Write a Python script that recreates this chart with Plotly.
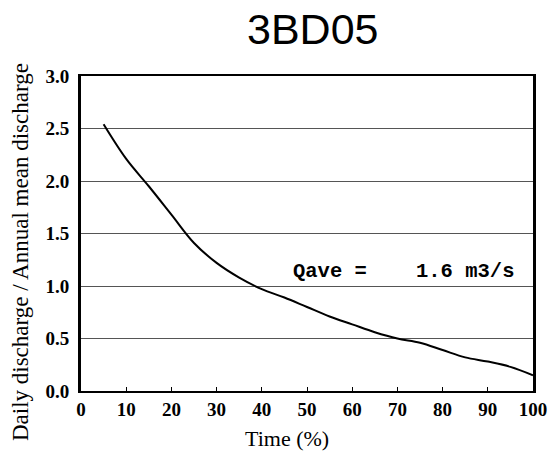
"""Flow duration curve for station 3BD05."""

import plotly.graph_objects as go

# Flow duration curve
time_pct = [5, 10, 15, 20, 25, 30, 35, 40, 45, 50, 55, 60, 65, 70, 75, 80, 85, 90, 95, 100]
ratio = [2.54, 2.21, 1.95, 1.68, 1.41, 1.22, 1.08, 0.97, 0.89, 0.80,
         0.71, 0.635, 0.56, 0.50, 0.46, 0.39, 0.32, 0.28, 0.23, 0.15]

x_ticks = [0, 10, 20, 30, 40, 50, 60, 70, 80, 90, 100]
y_ticks = [0.0, 0.5, 1.0, 1.5, 2.0, 2.5, 3.0]

station = "3BD05"
qave_label = "Qave =    1.6 m3/s"

serif = "Liberation Serif, Times New Roman, serif"

fig = go.Figure()
fig.add_trace(go.Scatter(
    x=time_pct, y=ratio,
    mode="lines",
    line={"color": "black", "width": 2},
    line_shape="spline",
    showlegend=False,
))

fig.update_layout(
    width=559, height=451,
    margin={"l": 81, "r": 21, "t": 76, "b": 60},
    paper_bgcolor="white",
    plot_bgcolor="white",
    font={"family": serif, "color": "black"},
)

fig.update_xaxes(
    range=[0, 100],
    tickvals=x_ticks,
    ticktext=[f"<b>{v}</b>" for v in x_ticks],
    tickfont={"size": 19, "family": serif},
    ticks="inside", ticklen=4, tickcolor="black",
    ticklabeloverflow="allow",
    showgrid=False, zeroline=False,
    showline=True, linecolor="black", linewidth=2, mirror=True,
)
fig.update_yaxes(
    range=[0, 3],
    tickvals=y_ticks,
    ticktext=[f"<b>{v:.1f}</b>" for v in y_ticks],
    tickfont={"size": 19, "family": serif},
    ticks="", ticklabelstandoff=5,
    showgrid=True, gridcolor="#555", gridwidth=1,
    zeroline=False,
    showline=True, linecolor="black", linewidth=3, mirror=True,
)

fig.add_annotation(
    text=station, xref="paper", yref="paper",
    x=0.512, y=1 + 47 / 315, xanchor="center", yanchor="middle",
    showarrow=False,
    font={"family": "Liberation Sans, Arial, sans-serif", "size": 43},
)
fig.add_annotation(
    text="Time (%)", xref="paper", yref="paper",
    x=0.455, y=-48 / 315, xanchor="center", yanchor="middle",
    showarrow=False, font={"family": serif, "size": 22},
)
fig.add_annotation(
    text="Daily discharge / Annual mean discharge", xref="paper", yref="paper",
    x=-61 / 457, y=0.44, xanchor="center", yanchor="middle", textangle=-90,
    showarrow=False, font={"family": serif, "size": 23},
)
fig.add_annotation(
    text=f"<b>{qave_label}</b>", xref="x", yref="y",
    x=46.4, y=1.14, xanchor="left", yanchor="middle",
    showarrow=False,
    font={"family": "Liberation Mono, Courier New, monospace", "size": 20.5},
)

# page has a default body margin that would shift the chart
fig.write_html(
    "out.html",
    config={"displayModeBar": False},
    post_script="document.body.style.margin='0';",
)
